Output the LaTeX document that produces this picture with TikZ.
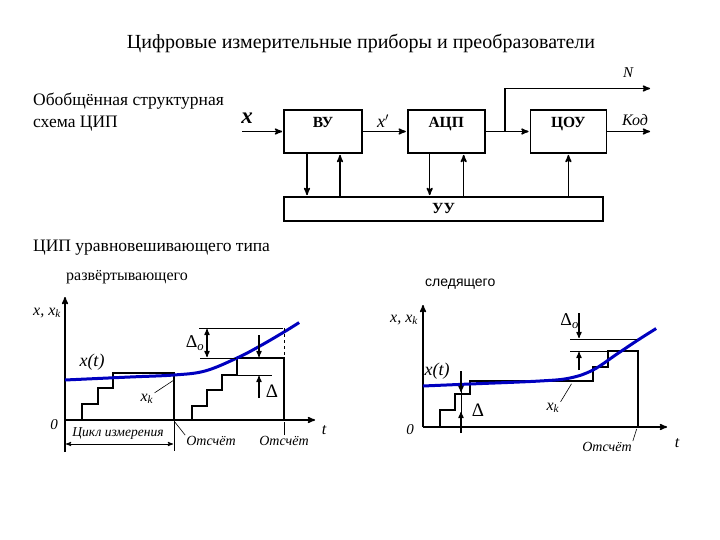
\documentclass[tikz,border=0pt]{standalone}
\usepackage{fontspec}
\setmainfont{Liberation Serif}
\newfontfamily\sansfnt{Liberation Sans}
\usetikzlibrary{arrows,positioning}

\newcommand{\xk}{\textit{x}\textsubscript{\textit{k}}}
\newcommand{\dlo}{Δ\textsubscript{\textit{o}}}
\newcommand{\fsz}[1]{\fontsize{#1}{#1}\selectfont}

\tikzset{
  blk/.style={draw, line width=1.7pt, minimum width=78pt, minimum height=43pt, inner sep=0pt,
    label={[font=\bfseries\fsz{15.5}, anchor=north, yshift=-5pt]north:#1}},
  sig/.style={->, line width=1.5pt},
  ax/.style={->, line width=1.5pt},
  stair/.style={line width=2.4pt},
  xcurve/.style={line width=3pt, color=blue!75!black},
  ldr/.style={line width=0.6pt},
  lbl/.style={font=\itshape\fsz{14}, inner sep=1pt},
}

\begin{document}
\begin{tikzpicture}[>=stealth', shorten >=1pt, x=1pt, y=-1pt]
  \useasboundingbox (0,0) rectangle (720,540);

  \node[font=\fsz{20}] (title) at (361,43) {Цифровые измерительные приборы и преобразователи};

  % structure scheme
  \node[font=\fontsize{17.5}{22}\selectfont, align=left, anchor=north west, inner sep=0pt] (head) at (33,93) {Обобщённая структурная\\схема ЦИП};
  \node[blk=ВУ] (vu) at (323,131.5) {};
  \node[blk=АЦП, minimum width=77pt, right=44pt of vu] (acp) {};
  \node[blk=ЦОУ, minimum width=76pt, right=44pt of acp] (cou) {};
  \node[draw, line width=1.7pt, minimum width=319pt, minimum height=24pt, font=\bfseries\fsz{15.5}] (uu) at (443.5,209) {УУ};

  \coordinate (xin) at (242,131.5);
  \coordinate (br) at (505,131.5);
  \coordinate (nout) at (651,88.5);
  \coordinate (kod) at (651,131.5);
  \node[font=\bfseries\itshape\fsz{23}] (xl) at (247,118) {x};
  \node[font=\itshape\fsz{18}] (xpl) at (383,121) {x$'$};
  \node[font=\itshape\fsz{15}] (nl) at (628,73) {N};
  \node[font=\itshape\fsz{16}] (kl) at (635,120) {Код};

  \draw[sig] (xin) -- (vu);
  \draw[sig] (vu) -- (acp);
  \draw[sig] (acp) -- (cou);
  \draw[sig] (br) |- (nout);
  \draw[sig] (cou) -- (kod);

  \draw[sig] ([xshift=-16pt]vu.south) -- ([xshift=-16pt]vu.south |- uu.north);
  \draw[sig] ([xshift=17pt]vu.south |- uu.north) -- ([xshift=17pt]vu.south);
  \draw[sig] ([xshift=-16.5pt]acp.south) -- ([xshift=-16.5pt]acp.south |- uu.north);
  \draw[sig] ([xshift=17.5pt]acp.south |- uu.north) -- ([xshift=17.5pt]acp.south);
  \draw[sig] (cou.south |- uu.north) -- (cou.south);

  \node[font=\fsz{17.5}, anchor=west, inner sep=0pt] (kind) at (33,248) {ЦИП уравновешивающего типа};
  \node[font=\fsz{16}, anchor=west, inner sep=0pt] (sweep) at (66,277) {развёртывающего};
  \node[font=\sansfnt\fsz{14}, anchor=west, inner sep=0pt] (track) at (425,284) {следящего};

  % sweeping type
  \draw[ax] (65,452) -- (65,296);
  \draw[ax] (65,420) -- (316,420);
  \node[lbl, font=\itshape\fsz{16}] (yl1) at (47,313) {x, \xk};
  \node[lbl, font=\itshape\fsz{15}] (o1) at (54,425) {0};
  \node[lbl, font=\itshape\fsz{16}] (t1) at (324,430) {t};
  \draw[stair] (65,420) -- (82,420) -- (82,404) -- (98,404) -- (98,388) -- (113,388)
    -- (113,373) -- (174,373) -- (174,420) -- (192,420) -- (192,406) -- (207,406)
    -- (207,390) -- (222,390) -- (222,375) -- (237,375) -- (237,358) -- (284,358) -- (284,420);
  \draw[stair] (228,420) -- (284,420);
  \draw[xcurve] plot[smooth, tension=0.6] coordinates {(65,380) (130,377) (174,375) (205,371) (237,358) (260,346) (284,332) (300,322)};
  \node[lbl, font=\itshape\fsz{18}] (xt1) at (92,362) {x(t)};
  \node[lbl, font=\fsz{16}] (xk1) at (147,399) {\xk};
  \coordinate (xk1p) at (174,380);
  \draw[ldr] (xk1.north east) -- (xk1p);
  % delta_o
  \draw[ldr] (199,328) -- (284,328);
  \draw[ldr] (200,358) -- (237,358);
  \draw[ldr, dashed] (284,328) -- (284,358);
  \draw[<->, line width=1.2pt, shorten <=1pt] (207,328) -- (207,358);
  \node[lbl, font=\fsz{18}] (dlo1) at (195,343) {\dlo};
  % delta
  \draw[ldr] (237,375) -- (273,375);
  \draw[->, line width=1.2pt] (259,335) -- (259,358);
  \draw[->, line width=1.2pt] (259,398) -- (259,375);
  \node[lbl, font=\fsz{19}] (dl1) at (272,391) {Δ};
  % cycle
  \draw[ldr] (174,420) -- (174,452);
  \draw[<->, line width=0.9pt, shorten <=1pt] (65,444) -- (174,444);
  \node[lbl, font=\itshape\fsz{13.5}] (cyc) at (118,434) {Цикл измерения};
  \node[lbl] (ots1) at (211,441) {Отсчёт};
  \node[lbl] (ots2) at (284,441) {Отсчёт};
  \coordinate (s1) at (174,421);
  \coordinate (s2) at (284,421);
  \draw[ldr] (ots1.north west) -- (s1);
  \draw[ldr] (ots2.north) -- (s2);

  % tracking type
  \draw[ax] (423,427) -- (423,304);
  \draw[ax] (423,427) -- (668,427);
  \node[lbl, font=\itshape\fsz{16}] (yl2) at (404,320) {x, \xk};
  \node[lbl, font=\itshape\fsz{15}] (o2) at (410,430) {0};
  \node[lbl, font=\itshape\fsz{16}] (t2) at (677,443) {t};
  \draw[stair] (423,427) -- (440,427) -- (440,410) -- (455,410) -- (455,394) -- (470,394)
    -- (470,381) -- (593,381) -- (593,367) -- (608,367) -- (608,351) -- (638,351) -- (638,427);
  \draw[xcurve] plot[smooth, tension=0.6] coordinates {(423,386) (470,384) (540,381) (570,378) (593,370) (617,354) (638,340) (657,328)};
  \node[lbl, font=\itshape\fsz{18}] (xt2) at (437,371) {x(t)};
  \node[lbl, font=\fsz{16}] (xk2) at (553,408) {\xk};
  \coordinate (xk2p) at (572,383);
  \draw[ldr] (xk2.north east) -- (xk2p);
  % delta
  \draw[ldr] (461,371) -- (461,433);
  \draw[->, line width=1.2pt] (461,371) -- (461,393);
  \draw[->, line width=1.2pt] (461,433) -- (461,411);
  \node[lbl, font=\fsz{19}] (dl2) at (478,410) {Δ};
  % delta_o
  \draw[ldr] (570,339) -- (638,339);
  \draw[ldr] (570,351) -- (608,351);
  \draw[->, line width=1.2pt] (579,313) -- (579,339);
  \draw[->, line width=1.2pt] (579,370) -- (579,351);
  \node[lbl, font=\fsz{18}, anchor=east] (dlo2) at (580,321) {\dlo};
  \node[lbl] (ots3) at (607,447) {Отсчёт};
  \coordinate (s3) at (637,428);
  \draw[ldr] (ots3.north east) -- (s3);
\end{tikzpicture}
\end{document}
